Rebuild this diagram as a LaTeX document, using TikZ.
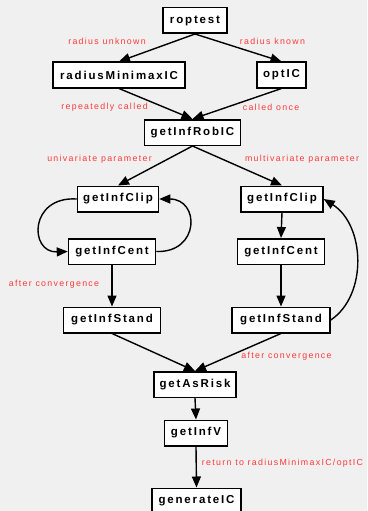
\documentclass[tikz,border=0pt]{standalone}
\usepackage{fontspec}
\setmainfont{Liberation Sans}
\newfontfamily\boxfont[LetterSpace=16]{Liberation Sans}
\newfontfamily\notefont[LetterSpace=15]{Liberation Sans}
\usetikzlibrary{arrows.meta}
\definecolor{canvas}{HTML}{F0F0F0}
\definecolor{notered}{HTML}{FF3838}
\tikzset{
  fnbox/.style={draw=black, line width=1.5pt, fill=white, text=black,
    minimum height=25.5pt, inner xsep=2pt, inner ysep=0pt,
    font=\boxfont\bfseries\fontsize{11.5}{13}\selectfont},
  note/.style={text=notered, inner sep=0pt,
    font=\notefont\fontsize{8.8}{10}\selectfont},
  link/.style={line width=1.4pt, draw=black,
    -{Triangle[length=11pt,width=9pt]}}
}
\begin{document}
\begin{tikzpicture}[x=1pt,y=-1pt]
\useasboundingbox (0,0) rectangle (367,511);
\fill[canvas] (0,0) rectangle (367,511);
\clip (0,0) rectangle (367,511);

% call graph boxes
\node[fnbox, minimum width=64pt]  (roptest) at (195,20.5)   {roptest};
\node[fnbox, minimum width=132pt] (rmm)     at (119,75)     {radiusMinimaxIC};
\node[fnbox, minimum width=49pt]  (opt)     at (281.5,75)   {optIC};
\node[fnbox, minimum width=96pt]  (rob)     at (192.5,132.5){getInfRobIC};
\node[fnbox, minimum width=81pt]  (clipL)   at (118,199)    {getInfClip};
\node[fnbox, minimum width=82pt]  (clipR)   at (282,199)    {getInfClip};
\node[fnbox, minimum width=87pt]  (centL)   at (112,251.5)  {getInfCent};
\node[fnbox, minimum width=87pt]  (centR)   at (281,251.5)  {getInfCent};
\node[fnbox, minimum width=97pt]  (standL)  at (112,320)    {getInfStand};
\node[fnbox, minimum width=98pt]  (standR)  at (281,320)    {getInfStand};
\node[fnbox, minimum width=82pt]  (risk)    at (195,384.5)  {getAsRisk};
\node[fnbox, minimum width=63pt]  (infv)    at (196,433)    {getInfV};
\node[fnbox, minimum width=89pt]  (gen)     at (196.5,501)  {generateIC};

% connectors
\draw[link] (roptest.south) -- (rmm.north);
\draw[link] (roptest.south) -- (opt.north);
\draw[link] (rmm.south) -- (rob.north);
\draw[link] (opt.south) -- (rob.north);
\draw[link] (rob.south) -- (clipL.north);
\draw[link] (rob.south) -- (clipR.north);
\draw[link] (clipL.west) .. controls (29,196) and (29,253) .. (centL.west);
\draw[link] (centL.east) .. controls (200,253) and (200,199) .. (clipL.east);
\draw[link] (clipR.south) -- (centR.north);
\draw[link] (centL.south) -- (standL.north);
\draw[link] (centR.south) -- (standR.north);
\draw[link] (standR.east) .. controls (368,295) and (365,225) .. (clipR.east);
\draw[link] (standL.south) -- (risk.north);
\draw[link] (standR.south) -- (risk.north);
\draw[link] (risk.south) -- (infv.north);
\draw[link] (infv.south) -- (gen.north);

% annotations
\node[note] (n1) at (107,41)    {radius unknown};
\node[note] (n2) at (272.5,41)  {radius known};
\node[note] (n3) at (104.5,107) {repeatedly called};
\node[note] (n4) at (271,107)   {called once};
\node[note] (n5) at (99.5,159)  {univariate parameter};
\node[note] (n6) at (302,159)   {multivariate parameter};
\node[note] (n7) at (54,284)    {after convergence};
\node[note] (n8) at (286.5,356) {after convergence};
\node[note] (n9) at (282.5,463) {return to radiusMinimaxIC/optIC};
\end{tikzpicture}
\end{document}
